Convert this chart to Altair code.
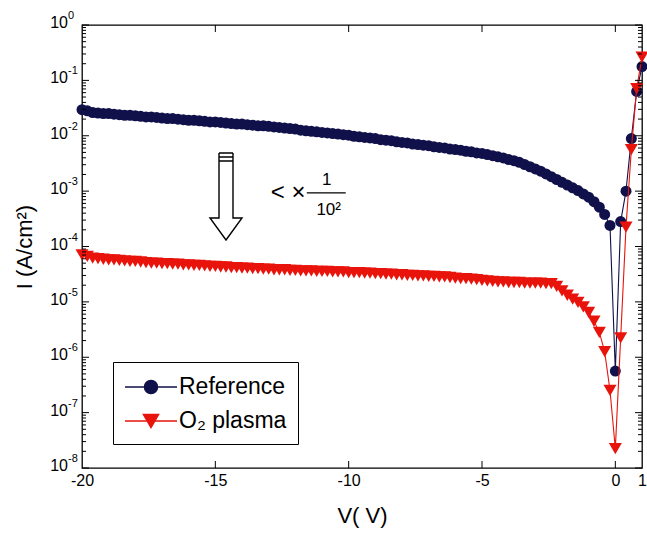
import altair as alt
import pandas as pd

FONT = "Liberation Sans"

# Sweep voltages (V): reverse bias in 0.2 V steps, then the forward branch
v_reverse = [round(-20 + 0.2 * i, 1) for i in range(101)]
v_forward = [0.2, 0.4, 0.6, 0.8, 1.0]
voltage = v_reverse + v_forward

# log10 of current density (A/cm^2), Reference device
ref_log_i = [
    -1.53, -1.55, -1.58, -1.59, -1.60, -1.60, -1.61, -1.62, -1.63, -1.63,
    -1.64, -1.65, -1.66, -1.66, -1.67, -1.68, -1.69, -1.69, -1.70, -1.71,
    -1.72, -1.72, -1.73, -1.74, -1.75, -1.75, -1.76, -1.77, -1.78, -1.79,
    -1.79, -1.80, -1.81, -1.82, -1.82, -1.83, -1.84, -1.85, -1.86, -1.87,
    -1.88, -1.90, -1.91, -1.92, -1.93, -1.94, -1.95, -1.96, -1.97, -1.98,
    -1.99, -2.01, -2.02, -2.03, -2.04, -2.05, -2.07, -2.08, -2.09, -2.11,
    -2.12, -2.13, -2.15, -2.16, -2.17, -2.18, -2.20, -2.21, -2.22, -2.24,
    -2.25, -2.26, -2.28, -2.29, -2.31, -2.32, -2.34, -2.36, -2.38, -2.40,
    -2.43, -2.45, -2.48, -2.52, -2.56, -2.60, -2.64, -2.69, -2.74, -2.79,
    -2.84, -2.89, -2.94, -2.99, -3.05, -3.11, -3.19, -3.29, -3.42, -3.62,
    -6.25,
    -3.55, -3.00, -2.05, -1.20, -0.75,
]

# log10 of current density (A/cm^2), O2 plasma treated device
o2_log_i = [
    -4.15, -4.18, -4.21, -4.22, -4.23, -4.24, -4.24, -4.25, -4.26, -4.27,
    -4.27, -4.28, -4.29, -4.30, -4.30, -4.31, -4.31, -4.32, -4.32, -4.33,
    -4.33, -4.34, -4.34, -4.35, -4.36, -4.36, -4.37, -4.37, -4.38, -4.38,
    -4.39, -4.39, -4.40, -4.40, -4.41, -4.41, -4.42, -4.42, -4.42, -4.43,
    -4.43, -4.44, -4.44, -4.44, -4.45, -4.45, -4.45, -4.46, -4.46, -4.46,
    -4.47, -4.47, -4.47, -4.48, -4.48, -4.49, -4.49, -4.50, -4.50, -4.51,
    -4.51, -4.52, -4.52, -4.53, -4.53, -4.54, -4.54, -4.55, -4.55, -4.56,
    -4.57, -4.58, -4.58, -4.59, -4.60, -4.61, -4.62, -4.63, -4.64, -4.64,
    -4.65, -4.65, -4.65, -4.66, -4.66, -4.66, -4.66, -4.67, -4.67, -4.72,
    -4.80, -4.88, -4.95, -5.01, -5.09, -5.19, -5.35, -5.55, -5.90, -6.60,
    -7.65,
    -5.65, -3.65, -2.25, -1.15, -0.58,
]

series_names = ["Reference", "O\u2082 plasma"]
series_colors = ["#10104a", "#e8140c"]

x_ticks = [-20, -15, -10, -5, 0, 1]
y_exponents = [0, -1, -2, -3, -4, -5, -6, -7, -8]

ref_df = pd.DataFrame({"V": voltage, "I": [10 ** v for v in ref_log_i]})
o2_df = pd.DataFrame({"V": voltage, "I": [10 ** v for v in o2_log_i]})

W, H = 560, 443

x_scale = alt.Scale(domain=[-20, 1], nice=False, zero=False)
y_scale = alt.Scale(type="log", domain=[1e-8, 1], nice=False)

x_axis = alt.Axis(
    values=x_ticks, labelExpr="datum.value + ''", ticks=False, tickSize=0,
    domain=False, grid=False, labelFontSize=16, labelPadding=4,
    labelFlush=False, labelOverlap=False,
    title="V( V)", titleFontSize=22, titleFontWeight="normal", titlePadding=17,
)
y_axis = alt.Axis(
    labels=False, ticks=False, tickSize=0, domain=False, grid=False,
    title="I (A/cm\u00b2)", titleFontSize=22, titleFontWeight="normal",
    titlePadding=46,
)


def X(field):
    return alt.X(field, type="quantitative", scale=x_scale, axis=x_axis)


def Y(field):
    return alt.Y(field, type="quantitative", scale=y_scale, axis=y_axis)


def curve(df, color, shape, size):
    line = alt.Chart(df).mark_line(color=color, strokeWidth=1.1).encode(
        x=X("V"), y=Y("I"), order="V:Q")
    pts = alt.Chart(df).mark_point(
        shape=shape, filled=True, color=color, size=size, opacity=1
    ).encode(x=X("V"), y=Y("I"))
    return [line, pts]


# Box ticks (inward) on all four sides
major_y = pd.DataFrame({"t": [10.0 ** e for e in y_exponents]})
minor_y = pd.DataFrame({"t": [m * 10.0 ** e for e in range(-8, 0) for m in range(2, 10)]})
major_x = pd.DataFrame({"t": [-15, -10, -5, 0]})


def y_ticks(df, length):
    left = alt.Chart(df).mark_rule(color="black", strokeWidth=1).encode(
        y=Y("t"), x=alt.value(0), x2=alt.value(length))
    right = alt.Chart(df).mark_rule(color="black", strokeWidth=1).encode(
        y=Y("t"), x=alt.value(W - length), x2=alt.value(W))
    return [left, right]


def x_tick_marks(df, length):
    bottom = alt.Chart(df).mark_rule(color="black", strokeWidth=1).encode(
        x=X("t"), y=alt.value(H - length), y2=alt.value(H))
    top = alt.Chart(df).mark_rule(color="black", strokeWidth=1).encode(
        x=X("t"), y=alt.value(0), y2=alt.value(length))
    return [bottom, top]


# Power-of-ten labels on the log axis: "10" with a raised exponent
ylab_df = pd.DataFrame({
    "t": [10.0 ** e for e in y_exponents],
    "base": ["10"] * len(y_exponents),
    "exp": [str(e) for e in y_exponents],
})
ylab_base = alt.Chart(ylab_df).mark_text(
    align="right", baseline="middle", fontSize=16, font=FONT, dy=-2, color="black"
).encode(y=Y("t"), x=alt.value(-14), text="base:N")
ylab_exp = alt.Chart(ylab_df).mark_text(
    align="left", baseline="middle", fontSize=11, font=FONT, dy=-9, color="black"
).encode(y=Y("t"), x=alt.value(-14), text="exp:N")

# Hollow downward arrow with the scaling note
arrow_path = (
    "M-0.159,-0.989H0.159M-0.159,-0.898H0.159M-0.159,-0.807H0.159"
    "M-0.159,-0.989V0.489H-0.364L0,0.989L0.364,0.489H0.159V-0.989"
)
arrow = alt.Chart(pd.DataFrame({"V": [-14.6], "I": [8.0e-4]})).mark_point(
    shape=arrow_path, size=7744, filled=False, stroke="black",
    strokeWidth=1.4, opacity=1,
).encode(x=X("V"), y=Y("I"))

note_lt = alt.Chart(pd.DataFrame({"V": [-11.62], "I": [9.3e-4], "s": ["<  \u00d7"]})).mark_text(
    align="right", baseline="middle", fontSize=24, font=FONT, color="black"
).encode(x=X("V"), y=Y("I"), text="s:N")
note_num = alt.Chart(pd.DataFrame({"V": [-10.82], "I": [1.6e-3], "s": ["1"]})).mark_text(
    align="center", baseline="middle", fontSize=17, font=FONT, color="black"
).encode(x=X("V"), y=Y("I"), text="s:N")
note_den = alt.Chart(pd.DataFrame({"V": [-10.75], "I": [4.6e-4], "s": ["10\u00b2"]})).mark_text(
    align="center", baseline="middle", fontSize=17, font=FONT, color="black"
).encode(x=X("V"), y=Y("I"), text="s:N")
note_bar = alt.Chart(pd.DataFrame({"V": [-11.57], "V2": [-10.11], "I": [9.3e-4]})).mark_rule(
    color="black", strokeWidth=1.2
).encode(x=X("V"), x2="V2:Q", y=Y("I"))

# Legend: line-through-marker symbols
circle_line = "M-2,0H2M0.5,0A0.5,0.5,0,1,1,-0.5,0A0.5,0.5,0,1,1,0.5,0Z"
tri_line = "M-2,0H2M-0.58,-0.5L0.58,-0.5L0,0.5Z"
leg = alt.Legend(
    title=None, orient="none", legendX=31, legendY=337,
    strokeColor="black", fillColor="white", padding=11, cornerRadius=0,
    symbolSize=676, symbolStrokeWidth=1.5, symbolOffset=13, labelOffset=14,
    labelFontSize=23, labelFont=FONT, labelColor="black", rowPadding=8,
    labelLimit=400,
)
legend_layer = alt.Chart(pd.DataFrame({"series": series_names})).mark_point(
    filled=True, opacity=1, size=676, strokeWidth=1.5
).encode(
    shape=alt.Shape("series:N", scale=alt.Scale(domain=series_names, range=[circle_line, tri_line]), legend=leg),
    fill=alt.Fill("series:N", scale=alt.Scale(domain=series_names, range=series_colors), legend=leg),
    stroke=alt.Stroke("series:N", scale=alt.Scale(domain=series_names, range=series_colors), legend=leg),
).transform_filter("false")

layers = (
    curve(ref_df, series_colors[0], "circle", 121)
    + curve(o2_df, series_colors[1], "triangle-down", 170)
    + y_ticks(major_y, 7) + y_ticks(minor_y, 4) + x_tick_marks(major_x, 7)
    + [ylab_base, ylab_exp, arrow, note_lt, note_num, note_den, note_bar, legend_layer]
)

chart = alt.layer(*layers).properties(
    width=W, height=H,
    autosize=alt.AutoSizeParams(type="none"),
    padding={"left": 82, "top": 25, "right": 5, "bottom": 78},
    background="white",
).configure_view(
    stroke="black", strokeWidth=1.3
).configure_axis(
    labelFont=FONT, titleFont=FONT, labelColor="black", titleColor="black"
)

chart.save("out.html", embed_options={"renderer": "svg", "actions": False})
